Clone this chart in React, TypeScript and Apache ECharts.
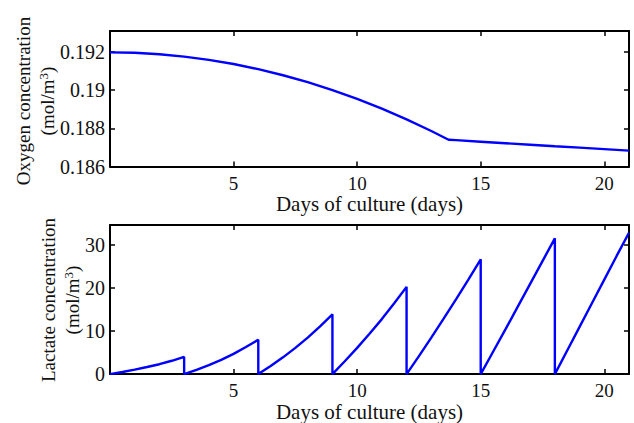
import React, { useEffect, useRef } from "react";
import * as echarts from "echarts";

// Oxygen concentration (mol/m^3) vs days
const oxygenDays = [0, 1, 2, 3, 4, 5, 6, 7, 8, 9, 10, 11, 12, 13, 13.7, 14, 15, 16, 17, 18, 19, 20, 21];
const oxygenValues = [
  0.19198, 0.19196, 0.19188, 0.19176, 0.19159, 0.19137, 0.1911, 0.19078, 0.19042, 0.19, 0.18954,
  0.18903, 0.18847, 0.18786, 0.1874, 0.18738, 0.1873, 0.18722, 0.18714, 0.18706, 0.18699, 0.18691,
  0.18683,
];

// Lactate concentration (mol/m^3) vs days (medium refreshed every 3 days)
const lactateDays = [
  0, 0.5, 1, 1.5, 2, 2.5, 3,
  3, 3.5, 4, 4.5, 5, 5.5, 6,
  6, 6.5, 7, 7.5, 8, 8.5, 9,
  9, 9.5, 10, 10.5, 11, 11.5, 12,
  12, 12.5, 13, 13.5, 14, 14.5, 15,
  15, 15.5, 16, 16.5, 17, 17.5, 18,
  18, 18.5, 19, 19.5, 20, 20.5, 21,
];
const lactateValues = [
  0, 0.5, 1.05, 1.65, 2.3, 3.1, 4.0,
  0, 1.0, 2.1, 3.3, 4.7, 6.3, 8.0,
  0, 1.9, 3.9, 6.1, 8.5, 11.1, 13.9,
  0, 3.0, 6.1, 9.4, 12.8, 16.5, 20.3,
  0, 4.2, 8.5, 12.9, 17.4, 22.0, 26.7,
  0, 5.2, 10.4, 15.7, 21.0, 26.3, 31.6,
  0, 5.5, 11.0, 16.5, 22.0, 27.5, 32.9,
];

const xTicksInterval = 5;
const oxygenRange = [0.186, 0.1931];
const oxygenInterval = 0.002;
const lactateRange = [0, 34.7];
const lactateInterval = 10;

const FONT = "Liberation Serif";
const FS = 19;

export default function App() {
  const ref = useRef<HTMLDivElement>(null);

  useEffect(() => {
    if (!ref.current) return;
    const chart = echarts.init(ref.current, undefined, { renderer: "svg" });

    const axisLine = { show: true, onZero: false, lineStyle: { color: "#000", width: 2 } };
    const axisTick = { show: true, inside: true, length: 5, lineStyle: { color: "#000", width: 1.5 } };
    const labelBase = { color: "#111", fontFamily: FONT, fontSize: FS };

    const makeX = (gridIndex: number, withName: boolean) => [
      {
        type: "value",
        gridIndex,
        position: "bottom",
        min: 0,
        max: 21,
        interval: xTicksInterval,
        axisLine,
        axisTick,
        splitLine: { show: false },
        axisLabel: { ...labelBase, margin: 7, showMinLabel: false, showMaxLabel: false },
        name: withName ? "Days of culture (days)" : "",
        nameLocation: "middle",
        nameGap: 19,
        nameTextStyle: { ...labelBase, fontSize: 21, verticalAlign: "top" },
      },
      {
        type: "value",
        gridIndex,
        position: "top",
        min: 0,
        max: 21,
        interval: xTicksInterval,
        axisLine,
        axisTick,
        splitLine: { show: false },
        axisLabel: { show: false },
      },
    ];

    const makeY = (gridIndex: number, range: number[], interval: number, fmt: (v: number) => string) => [
      {
        type: "value",
        gridIndex,
        position: "left",
        min: range[0],
        max: range[1],
        interval,
        axisLine,
        axisTick,
        splitLine: { show: false },
        axisLabel: { ...labelBase, fontSize: 20, margin: 5, showMaxLabel: false, formatter: fmt },
      },
      {
        type: "value",
        gridIndex,
        position: "right",
        min: range[0],
        max: range[1],
        interval,
        axisLine,
        axisTick,
        splitLine: { show: false },
        axisLabel: { show: false },
      },
    ];

    const unitRich = {
      a: { fontFamily: FONT, fontSize: FS, color: "#111" },
      s: { fontFamily: FONT, fontSize: 13, color: "#111", verticalAlign: "top", padding: [0, 0, 8, 0] },
    };

    const vText = (x: number, y: number, text: string, rich?: any) => ({
      type: "text",
      x,
      y,
      rotation: Math.PI / 2,
      style: {
        text,
        fontFamily: FONT,
        fontSize: FS,
        fill: "#111",
        align: "center",
        verticalAlign: "middle",
        rich,
      },
    });

    chart.setOption({
      animation: false,
      backgroundColor: "#fff",
      grid: [
        { left: 110, right: 5, top: 31, height: 135.5 },
        { left: 110, right: 5, top: 225, height: 155 },
      ],
      xAxis: [...makeX(0, true), ...makeX(1, true)],
      yAxis: [
        ...makeY(0, oxygenRange, oxygenInterval, (v: number) => String(+v.toFixed(3))),
        ...makeY(1, lactateRange, lactateInterval, (v: number) => String(Math.round(v))),
      ],
      graphic: [
        vText(23, 101, "Oxygen concentration"),
        vText(47, 101, "{a|(mol/m}{s|3}{a|)}", unitRich),
        vText(48, 300, "Lactate concentration"),
        vText(72, 300, "{a|(mol/m}{s|3}{a|)}", unitRich),
      ],
      series: [
        {
          type: "line",
          xAxisIndex: 0,
          yAxisIndex: 0,
          showSymbol: false,
          lineStyle: { color: "#0000ff", width: 2.4 },
          data: oxygenDays.map((d, i) => [d, oxygenValues[i]]),
        },
        {
          type: "line",
          xAxisIndex: 2,
          yAxisIndex: 2,
          showSymbol: false,
          lineStyle: { color: "#0000ff", width: 2.4 },
          data: lactateDays.map((d, i) => [d, lactateValues[i]]),
        },
      ],
    });

    return () => chart.dispose();
  }, []);

  return (
    <div
      ref={ref}
      style={{ position: "fixed", left: 0, top: 0, width: 634, height: 423, background: "#fff" }}
    />
  );
}
